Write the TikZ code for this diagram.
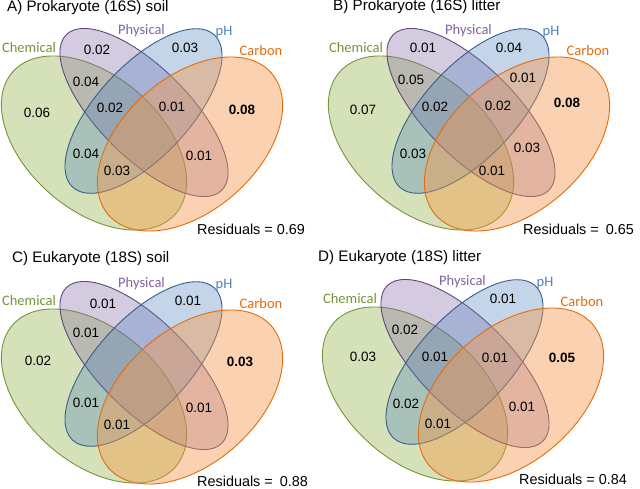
\documentclass[tikz,border=0pt]{standalone}
\usepackage{fontspec}
\setmainfont{Liberation Sans}
\newfontfamily\calib{Carlito}
\definecolor{gF}{HTML}{9BBB59}
\definecolor{gE}{HTML}{77933C}
\definecolor{pF}{HTML}{8064A2}
\definecolor{pE}{HTML}{5F497A}
\definecolor{bF}{HTML}{4F81BD}
\definecolor{bE}{HTML}{385D8A}
\definecolor{oF}{HTML}{F79646}
\definecolor{oE}{HTML}{E46C0A}
\definecolor{gT}{HTML}{77933C}
\definecolor{pT}{HTML}{8064A2}
\definecolor{bT}{HTML}{4F81BD}
\definecolor{oT}{HTML}{E46C0A}
\tikzset{
  vline/.style={line width=0.9pt},
  gset/.style={vline, draw=gE, fill=gF, fill opacity=0.42},
  pset/.style={vline, draw=pE, fill=pF, fill opacity=0.33},
  bset/.style={vline, draw=bE, fill=bF, fill opacity=0.33},
  oset/.style={vline, draw=oE, fill=oF, fill opacity=0.42},
  num/.style={inner sep=0pt, font=\fontsize{13.5}{14}\selectfont},
  bnum/.style={inner sep=0pt, font=\fontsize{13.5}{14}\selectfont\bfseries},
  setlab/.style={inner sep=0pt, font=\calib\fontsize{14.5}{15}\selectfont},
  ttl/.style={anchor=west, inner sep=0pt, font=\fontsize{15.2}{16}\selectfont},
  resid/.style={anchor=west, inner sep=0pt, font=\fontsize{14.4}{15}\selectfont},
}
\newcommand\vennellipses{%
  \begin{scope}[shift={(94,143)}, rotate=-41]
    \draw[gset] (0,0) ellipse [x radius=108pt, y radius=67pt];
  \end{scope}
  \begin{scope}[shift={(144,112.5)}, rotate=-45]
    \draw[pset] (0,0) ellipse [x radius=110pt, y radius=45pt];
  \end{scope}
  \begin{scope}[shift={(143.5,111)}, rotate=47]
    \draw[bset] (0,0) ellipse [x radius=104pt, y radius=46pt];
  \end{scope}
  \begin{scope}[shift={(190,144)}, rotate=41]
    \draw[oset] (0,0) ellipse [x radius=108pt, y radius=67pt];
  \end{scope}%
}
\newcommand\vennlabels[1]{%
  \node[setlab, text=pT] (#1-phys) at (141.5,31) {Physical};
  \node[setlab, text=bT] (#1-ph) at (224,32) {pH};
  \node[setlab, text=gT] (#1-chem) at (29,48) {Chemical};
  \node[setlab, text=oT] (#1-carb) at (261,51) {Carbon};%
}
\begin{document}
\begin{tikzpicture}[x=1pt, y=-1pt]
\useasboundingbox (0,0) rectangle (640,488);
\fill[white] (0,0) rectangle (640,488);
% Panel A
\begin{scope}[shift={(0,0)}]
  \vennellipses
  \vennlabels{A}
  \node[ttl] (A-title) at (7,8) {A) Prokaryote (16S) soil};
  \node[num] (A-p) at (97,50) {0.02};
  \node[num] (A-b) at (185,48) {0.03};
  \node[num] (A-gp) at (86,82) {0.04};
  \node[num] (A-g) at (37,113) {0.06};
  \node[num] (A-gpb) at (110,108) {0.02};
  \node[num] (A-pbo) at (172,107) {0.01};
  \node[bnum] (A-o) at (242,110) {0.08};
  \node[num] (A-gb) at (86,154) {0.04};
  \node[num] (A-po) at (199,156) {0.01};
  \node[num] (A-gbo) at (117,171) {0.03};
  \node[resid] (A-res) at (197,229) {Residuals = 0.69};
\end{scope}
% Panel B
\begin{scope}[shift={(327,0)}]
  \vennellipses
  \vennlabels{B}
  \node[ttl] (B-title) at (6,7) {B) Prokaryote (16S) litter};
  \node[num] (B-p) at (96,48) {0.01};
  \node[num] (B-b) at (182,48) {0.04};
  \node[num] (B-gp) at (84,80) {0.05};
  \node[num] (B-bo) at (196,78) {0.01};
  \node[num] (B-g) at (36,110) {0.07};
  \node[num] (B-gpb) at (108,107) {0.02};
  \node[num] (B-pbo) at (171,106) {0.02};
  \node[bnum] (B-o) at (240,103) {0.08};
  \node[num] (B-gb) at (86,154) {0.03};
  \node[num] (B-po) at (200,148) {0.03};
  \node[num] (B-gpo) at (165,171) {0.01};
  \node[resid] (B-res) at (196,229) {Residuals =\hspace{3pt} 0.65};
\end{scope}
% Panel C
\begin{scope}[shift={(0,253)}]
  \vennellipses
  \vennlabels{C}
  \node[ttl] (C-title) at (12,6) {C) Eukaryote (18S) soil};
  \node[num] (C-p) at (103,51) {0.01};
  \node[num] (C-b) at (188,48) {0.01};
  \node[num] (C-gp) at (86,80) {0.01};
  \node[num] (C-g) at (38,108) {0.02};
  \node[bnum] (C-o) at (240,109) {0.03};
  \node[num] (C-gb) at (86,150) {0.01};
  \node[num] (C-po) at (199,155) {0.01};
  \node[num] (C-gbo) at (117,172) {0.01};
  \node[resid] (C-res) at (197,228) {Residuals =\hspace{3pt} 0.88};
\end{scope}
% Panel D
\begin{scope}[shift={(321,251)}]
  \vennellipses
  \vennlabels{D}
  \node[ttl] (D-title) at (-3,7) {D) Eukaryote (18S) litter};
  \node[num] (D-b) at (182,48) {0.01};
  \node[num] (D-gp) at (84,79) {0.02};
  \node[num] (D-g) at (42,106) {0.03};
  \node[num] (D-gpb) at (114,106) {0.01};
  \node[num] (D-pbo) at (174,107) {0.01};
  \node[bnum] (D-o) at (241,107) {0.05};
  \node[num] (D-gb) at (85,153) {0.02};
  \node[num] (D-po) at (201,156) {0.01};
  \node[num] (D-gbo) at (117,173) {0.01};
  \node[resid] (D-res) at (198,228) {Residuals = 0.84};
\end{scope}
\end{tikzpicture}
\end{document}
